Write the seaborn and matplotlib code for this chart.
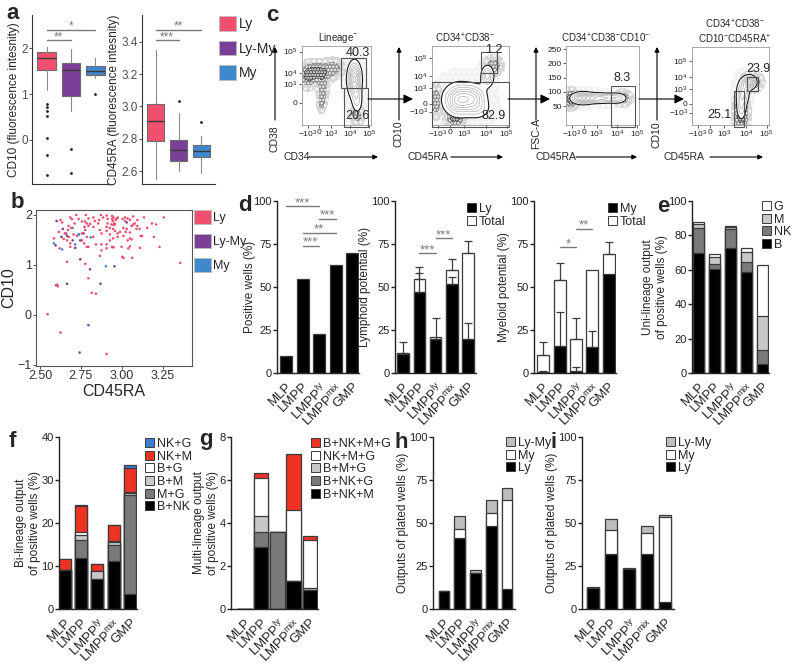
import numpy as np
import pandas as pd
import matplotlib
matplotlib.use("Agg")
import matplotlib.pyplot as plt
import seaborn as sns
from matplotlib.patches import Patch, Rectangle

sns.set_theme(style="ticks", rc={
    "axes.linewidth": 1.0, "xtick.major.width": 1.0, "ytick.major.width": 1.0,
    "xtick.major.size": 3, "ytick.major.size": 3,
    "xtick.labelsize": 8, "ytick.labelsize": 8, "axes.labelsize": 8.5,
    "axes.edgecolor": "#222222", "xtick.color": "#222222", "ytick.color": "#222222",
})
plt.rcParams['font.family'] = ['Liberation Sans', 'DejaVu Sans']
plt.rcParams['mathtext.fontset'] = 'custom'
plt.rcParams['mathtext.rm'] = 'Liberation Sans'
plt.rcParams['mathtext.it'] = 'Liberation Sans:italic'
plt.rcParams['mathtext.bf'] = 'Liberation Sans:bold'
plt.rcParams['hatch.color'] = '#2a2a2a'
plt.rcParams['hatch.linewidth'] = 1.1

# ---------------- data ----------------
groups = ['Ly', 'Ly-My', 'My']
group_colors = ['#f0506e', '#7b3f98', '#3f88cc']

# panel a : box summaries
cd10_q1 = [1.53, 0.96, 1.42]
cd10_med = [1.78, 1.53, 1.51]
cd10_q3 = [1.91, 1.69, 1.62]
cd10_lo = [1.08, 0.63, 1.34]
cd10_hi = [2.04, 1.98, 1.78]
cd10_fliers = [[0.78, 0.71, 0.62, 0.51, 0.04, -0.34, -0.78], [-0.2, -0.73], [1.0]]

cd45_q1 = [2.785, 2.666, 2.69]
cd45_med = [2.912, 2.731, 2.723]
cd45_q3 = [3.018, 2.791, 2.762]
cd45_lo = [2.555, 2.604, 2.59]
cd45_hi = [3.349, 2.959, 2.815]
cd45_fliers = [[], [3.031], [2.906]]

# panel b : single cells (CD45RA, CD10)
ly_cd45ra = [2.722, 2.780, 2.872, 2.907, 2.941, 2.685, 2.695, 2.736, 2.796, 2.826, 2.886, 2.913, 2.941,
             2.756, 2.776, 2.836, 2.862, 2.625, 2.635, 2.711, 2.786, 2.806, 2.856, 2.913, 2.937, 2.675,
             2.691, 2.772, 2.796, 2.826, 2.907, 2.927, 2.947, 2.671, 2.776, 2.866, 2.907, 2.615, 2.651,
             2.705, 2.756, 2.876, 2.927, 2.675, 2.726, 2.786, 2.826, 2.585, 2.645, 2.665, 2.756, 2.947,
             2.685, 2.770, 2.842, 2.876, 2.907, 2.685, 2.786, 2.796, 2.619, 2.907, 2.927, 2.665, 2.776,
             2.796, 2.816, 2.842, 2.603, 2.609, 2.546, 2.625, 2.907, 2.876, 2.941, 2.866, 2.950,
             2.949, 2.969, 2.945, 2.955, 2.963, 2.975, 3.005, 3.020, 3.036, 3.070, 3.096, 3.136, 3.257,
             3.185, 3.210, 2.949, 2.959, 3.010, 3.030, 3.060, 3.070, 3.096, 3.090, 3.110, 3.156, 2.959,
             2.975, 2.989, 3.024, 3.050, 2.975, 3.010, 3.036, 3.050, 3.060, 3.116, 3.124, 3.197, 2.999,
             3.040, 3.050, 3.110, 3.231, 3.010, 3.003, 3.064, 3.358, 3.020, 3.080, 3.050]
ly_cd10 = [2.00, 2.00, 2.00, 1.99, 1.98, 1.95, 1.92, 1.92, 1.93, 1.95, 1.95, 1.92, 1.92,
           1.87, 1.87, 1.88, 1.90, 1.90, 1.85, 1.83, 1.83, 1.82, 1.83, 1.83, 1.81, 1.78,
           1.74, 1.76, 1.78, 1.76, 1.76, 1.74, 1.72, 1.70, 1.70, 1.70, 1.68, 1.66, 1.63,
           1.61, 1.63, 1.63, 1.61, 1.56, 1.58, 1.56, 1.56, 1.53, 1.52, 1.49, 1.49, 1.53,
           1.43, 1.43, 1.41, 1.41, 1.41, 1.36, 1.36, 1.36, 1.33, 1.33, 1.49, 1.06, 1.02,
           0.73, 0.44, 0.42, 0.60, 0.57, 0.01, -0.36, -0.79, 1.29, 1.36, 1.18, 1.35,
           1.95, 1.93, 1.88, 1.83, 1.90, 1.95, 1.92, 1.95, 1.93, 1.97, 1.90, 1.95, 1.95,
           1.83, 1.81, 1.80, 1.81, 1.74, 1.72, 1.78, 1.81, 1.78, 1.72, 1.72, 1.74, 1.68,
           1.63, 1.66, 1.66, 1.65, 1.56, 1.58, 1.49, 1.53, 1.51, 1.58, 1.58, 1.56, 1.36,
           1.33, 1.37, 1.34, 1.36, 1.14, 1.16, 1.14, 1.04, 1.88, 1.83, 1.90]
lymy_cd45ra = [2.601, 2.639, 2.659, 2.631, 2.665, 2.699, 2.746, 2.715, 2.595, 2.746, 2.806, 2.665,
               2.870, 2.599, 2.796, 2.742, 2.766, 2.955, 3.030]
lymy_cd10 = [1.88, 1.72, 1.63, 1.56, 1.58, 1.49, 1.49, 1.34, 1.39, 1.11, 0.91, 0.62,
             0.62, 0.59, -0.21, -0.76, 1.63, 0.97, 1.85]
my_cd45ra = [2.699, 2.736, 2.810, 2.715, 2.585, 2.635, 2.903, 2.738]
my_cd10 = [1.74, 1.61, 1.55, 1.41, 1.43, 1.31, 0.97, 1.61]

# bar panels
pops = ['MLP', 'LMPP', 'LMPPly', 'LMPPmix', 'GMP']
pop_labels = ['MLP', 'LMPP', r'LMPP$^{\rm ly}$', r'LMPP$^{\rm mix}$', 'GMP']

positive_wells = [10, 54.5, 22.5, 63, 70]

lymph_ly = [11, 47, 20, 52, 20]
lymph_ly_err = [0, 11, 12, 4, 9]
lymph_total = [11.5, 54.5, 21, 60, 70]
lymph_total_err = [6.3, 7, 0, 6, 7]

myel_my = [0.8, 15.5, 1.2, 15, 57.5]
myel_my_err = [0.5, 20, 2, 9.5, 0]
myel_total = [10.5, 54, 19.5, 60, 69]
myel_total_err = [7.7, 10, 12.5, 0, 7]

uni_labels = ['B', 'NK', 'M', 'G']
uni_B = [69.7, 60.5, 72.5, 59, 5.4]
uni_NK = [14.8, 3, 11, 5.3, 8]
uni_M = [1.9, 3.7, 1.1, 6.3, 19.8]
uni_G = [1.6, 1.8, 1.0, 1.9, 29.8]

bi_labels = ['B+NK', 'M+G', 'B+M', 'B+G', 'NK+M', 'NK+G']
bi_BNK = [9, 11.9, 7, 11.1, 3.5]
bi_MG = [0, 4.2, 0, 3.9, 23]
bi_BM = [0, 1.2, 1.8, 0.5, 0.5]
bi_BG = [0, 0.6, 0, 0.3, 0.3]
bi_NKM = [2.6, 6.1, 1.7, 3.8, 5.4]
bi_NKG = [0, 0.3, 0, 0, 0.7]

multi_labels = ['B+NK+M', 'B+NK+G', 'B+M+G', 'NK+M+G', 'B+NK+M+G']
multi_BNKM = [0, 2.87, 0, 1.29, 0.88]
multi_BNKG = [0, 0.71, 3.6, 0, 0]
multi_BMG = [0, 0.73, 0, 0, 0.1]
multi_NKMG = [0, 1.78, 0, 3.31, 2.22]
multi_all = [0, 0.24, 0, 2.6, 0.2]

out_labels = ['Ly', 'My', 'Ly-My']
h_ly = [10.4, 41, 21, 48.3, 11.6]
h_my = [0, 5.3, 0, 7.5, 51.7]
h_lymy = [0, 7.9, 1.5, 7.5, 7.3]
i_ly = [12.3, 32, 23, 32, 4.2]
i_my = [0, 14, 0, 12, 49.3]
i_lymy = [0.7, 6.5, 1, 4, 1]

# panel c : flow gating (relative axis units)
flow_titles = [r'Lineage$^{-}$', r'CD34$^{+}$CD38$^{-}$', r'CD34$^{+}$CD38$^{-}$CD10$^{-}$',
               'CD34$^{+}$CD38$^{-}$\nCD10$^{-}$CD45RA$^{+}$']
flow_xlabels = ['CD34', 'CD45RA', 'CD45RA', 'CD45RA']
flow_ylabels = ['CD38', 'CD10', 'FSC-A', 'CD10']
log_ticklabels = [r'$-10^3$', '0', r'$10^3$', r'$10^4$', r'$10^5$']
fsc_ticklabels = ['50', '100', '150', '200', '250']
# event clouds: (centre x, centre y, spread x, spread y, weight)
lin_dots = [(0.22, 0.66, 0.11, 0.07, 1.0), (0.08, 0.62, 0.06, 0.08, 0.6), (0.30, 0.45, 0.04, 0.10, 0.55),
            (0.28, 0.28, 0.03, 0.06, 0.4), (0.80, 0.12, 0.05, 0.07, 0.4), (0.45, 0.72, 0.08, 0.06, 0.5)]
lin_contours = [(0.76, 0.58, 0.06, 0.13, 1.6), (0.80, 0.30, 0.05, 0.10, 0.5)]
cd34_dots = [(0.30, 0.10, 0.06, 0.06, 1.0), (0.05, 0.30, 0.04, 0.10, 0.6), (0.80, 0.75, 0.06, 0.06, 0.5)]
cd34_contours = [(0.35, 0.32, 0.12, 0.12, 1.0), (0.55, 0.35, 0.10, 0.10, 0.6),
                 (0.72, 0.62, 0.05, 0.08, 0.7), (0.60, 0.20, 0.10, 0.08, 0.3)]
cd10_dots = [(0.07, 0.33, 0.05, 0.06, 1.0), (0.78, 0.34, 0.06, 0.05, 0.5)]
cd10_contours = [(0.22, 0.34, 0.09, 0.045, 1.0), (0.45, 0.34, 0.15, 0.04, 0.8), (0.70, 0.34, 0.08, 0.04, 0.5)]
cd45_dots = [(0.64, 0.15, 0.05, 0.12, 1.0), (0.78, 0.55, 0.07, 0.06, 0.6)]
cd45_contours = [(0.75, 0.55, 0.05, 0.05, 1.0), (0.66, 0.42, 0.05, 0.10, 0.6), (0.64, 0.22, 0.04, 0.10, 0.4)]
lin_gates = [(0.56, 0.47, 0.37, 0.38), (0.61, -0.02, 0.35, 0.49)]
cd34_gates = [(0.0, -0.02, 1.0, 0.57), (0.63, 0.66, 0.22, 0.26)]
cd10_gates = [(0.62, -0.02, 0.33, 0.51)]
cd45_gates = [(0.72, 0.43, 0.14, 0.19), (0.55, -0.02, 0.13, 0.45)]
lin_freqs = ['40.3', '20.6']
cd34_freqs = ['82.9', '1.2']
cd10_freqs = ['8.3']
cd45_freqs = ['23.9', '25.1']

# ---------------- figure ----------------
W, H = 800, 669
fig = plt.figure(figsize=(W / 100, H / 100), dpi=100)


def px_axes(x0, y0, x1, y1):
    return fig.add_axes([x0 / W, 1 - y1 / H, (x1 - x0) / W, (y1 - y0) / H])


def sig(ax, x0, x1, y, stars, fs=9.5):
    ax.plot([x0, x1], [y, y], color='#7a7a7a', lw=1, clip_on=False)
    ax.text((x0 + x1) / 2, y, stars, ha='center', va='baseline', color='#7a7a7a', fontsize=fs)


# ---- a ----
def box_panel(ax, q1, med, q3, lo, hi, fliers, ylim, yticks, ylabel):
    stats = [dict(med=med[k], q1=q1[k], q3=q3[k], whislo=lo[k], whishi=hi[k], fliers=fliers[k])
             for k in range(3)]
    bp = ax.bxp(stats, positions=range(3), widths=0.75, patch_artist=True,
                boxprops=dict(edgecolor='#6b6b6b', linewidth=0.8),
                medianprops=dict(color='#3a3a3a', linewidth=1.0),
                whiskerprops=dict(color='#8a8a8a', linewidth=0.8),
                capprops=dict(linewidth=0),
                flierprops=dict(marker='o', markersize=2, markerfacecolor='#222222',
                                markeredgecolor='none'))
    for patch, c in zip(bp['boxes'], group_colors):
        patch.set_facecolor(c)
    ax.set_xlim(-0.6, 2.6)
    ax.set_ylim(*ylim)
    ax.set_yticks(yticks)
    ax.set_xticks([])
    ax.tick_params(axis='y', labelsize=8.5, labelcolor='#4d4d4d', color='#333333', length=2, width=0.6,
                   pad=1)
    ax.set_ylabel(ylabel, fontsize=8.5, labelpad=1)
    sns.despine(ax=ax)
    for s in ['left', 'bottom']:
        ax.spines[s].set_color('#333333')
        ax.spines[s].set_linewidth(0.8)


a1 = px_axes(32, 15, 110, 184)
box_panel(a1, cd10_q1, cd10_med, cd10_q3, cd10_lo, cd10_hi, cd10_fliers, (-0.97, 2.73), [0, 1, 2],
          'CD10 (fluorescence intesnity)')
sig(a1, 0, 2, 2.41, '*', fs=8.5)
sig(a1, 0, 1, 2.18, '**', fs=8.5)
a2 = px_axes(142, 15, 215, 184)
box_panel(a2, cd45_q1, cd45_med, cd45_q3, cd45_lo, cd45_hi, cd45_fliers, (2.522, 3.564),
          [2.6, 2.8, 3.0, 3.2, 3.4], 'CD45RA (fluorescence intesnity)')
a2.set_yticklabels(['2.6', '2.8', '3.0', '3.2', '3.4'])
sig(a2, 0, 2, 3.472, '**', fs=8.5)
sig(a2, 0, 1, 3.41, '***', fs=8.5)

group_handles = [Patch(facecolor=c, edgecolor='#bbbbbb', linewidth=0.6) for c in group_colors]
fig.legend(group_handles, groups, loc='upper left', bbox_to_anchor=(219 / W, 1 - 16 / H),
           frameon=False, fontsize=10, handlelength=1.25, handleheight=1.25, handletextpad=0.2,
           labelspacing=0.7, borderpad=0, borderaxespad=0)

# ---- b ----
b = px_axes(36, 210, 192, 366)
cells = pd.concat([
    pd.DataFrame({'CD45RA': lymy_cd45ra, 'CD10': lymy_cd10, 'group': 'Ly-My'}),
    pd.DataFrame({'CD45RA': my_cd45ra, 'CD10': my_cd10, 'group': 'My'}),
    pd.DataFrame({'CD45RA': ly_cd45ra, 'CD10': ly_cd10, 'group': 'Ly'}),
])
sns.scatterplot(data=cells, x='CD45RA', y='CD10', hue='group', hue_order=groups,
                palette=group_colors, s=3.5, linewidth=0, legend=False, ax=b)
b.set_xlim(2.475, 3.43)
b.set_ylim(-1.03, 2.10)
b.set_xticks([2.5, 2.75, 3.0, 3.25])
b.set_xticklabels(['2.50', '2.75', '3.00', '3.25'])
b.set_yticks([-1, 0, 1, 2])
b.tick_params(labelsize=9, labelcolor='#333333', color='#333333', length=2, width=0.6, pad=1)
b.set_xlabel('CD45RA', fontsize=11.5, labelpad=1)
b.set_ylabel('CD10', fontsize=11.5, labelpad=1)
for s in b.spines.values():
    s.set_color('#555555')
    s.set_linewidth(0.8)
fig.legend(group_handles, groups, loc='upper left', bbox_to_anchor=(194 / W, 1 - 210 / H),
           frameon=False, fontsize=9, handlelength=1.35, handleheight=1.35, handletextpad=0.15,
           labelspacing=0.78, borderpad=0, borderaxespad=0)


# ---- c ----
def density(clouds, X, Y):
    Z = np.zeros_like(X)
    for cx, cy, sx, sy, w in clouds:
        Z += w * np.exp(-0.5 * (((X - cx) / sx) ** 2 + ((Y - cy) / sy) ** 2))
    return Z / Z.max()


def flow_panel(ax, dots, contours, gates, freqs, freq_pos, yticks, yticklabels):
    grid = np.linspace(0, 1, 240)
    X, Y = np.meshgrid(grid, grid)
    Zd = density(dots, X, Y)
    Zc = density(contours, X, Y)
    ax.contourf(X, Y, Zc, levels=[0.004, 0.15], colors=['#f2f2f2'], hatches=['...'])
    ax.contourf(X, Y, Zd, levels=[0.03, 0.25, 0.6, 1.01], colors=['#d6d6d6', '#8f8f8f', '#4a4a4a'],
                hatches=['...', '.....', '......'])
    ax.contourf(X, Y, Zc, levels=[0.15, 1.01], colors=['white'])
    ax.contour(X, Y, Zc, levels=[0.15], colors='#1a1a1a', linewidths=0.8)
    ax.contour(X, Y, Zc, levels=np.linspace(0.3, 0.95, 6), colors='#a6a6a6', linewidths=0.45)
    for gx, gy, gw, gh in gates:
        ax.add_patch(Rectangle((gx, gy), gw, gh, fill=False, edgecolor='#555555', lw=0.8,
                               clip_on=False, zorder=5))
    for txt, (tx, ty, ha) in zip(freqs, freq_pos):
        ax.text(tx, ty, txt, ha=ha, va='center', fontsize=9, zorder=6)
    ax.set_xlim(0, 1)
    ax.set_ylim(0, 1)
    ax.set_xticks([0.08, 0.24, 0.42, 0.70, 0.97])
    ax.set_xticklabels(log_ticklabels)
    ax.set_yticks(yticks)
    ax.set_yticklabels(yticklabels)
    ax.tick_params(labelsize=6, length=2, width=0.5, pad=1)
    for s in ax.spines.values():
        s.set_color('#9a9a9a')
        s.set_linewidth(0.6)


p1 = px_axes(302, 46, 371, 125)
flow_panel(p1, lin_dots, lin_contours, lin_gates, lin_freqs,
           [(0.98, 0.91, 'right'), (0.98, 0.12, 'right')], [0.28, 0.52, 0.66, 0.93], log_ticklabels[1:])
p2 = px_axes(432, 46, 509, 125)
flow_panel(p2, cd34_dots, cd34_contours, cd34_gates, cd34_freqs,
           [(0.96, 0.11, 'right'), (0.92, 0.95, 'right')], [0.17, 0.27, 0.47, 0.62, 0.85], log_ticklabels)
p3 = px_axes(566, 46, 639, 125)
flow_panel(p3, cd10_dots, cd10_contours, cd10_gates, cd10_freqs, [(0.77, 0.6, 'center')],
           [0.24, 0.42, 0.60, 0.78, 0.96], fsc_ticklabels)
p4 = px_axes(692, 47, 769, 125)
flow_panel(p4, cd45_dots, cd45_contours, cd45_gates, cd45_freqs,
           [(0.86, 0.72, 'center'), (0.36, 0.13, 'center')], [0.16, 0.27, 0.46, 0.62, 0.82], log_ticklabels)


# ---- d, e, f, g, h, i ----
def bar_axes(ax, xlim, ylim, yticks, ylabel):
    ax.set_xlim(*xlim)
    ax.set_ylim(*ylim)
    ax.set_yticks(yticks)
    ax.set_xticks(range(len(pops)))
    ax.set_xticklabels(pop_labels, rotation=45, ha='right', rotation_mode='anchor', fontsize=9.5)
    ax.set_xlabel('')
    ax.set_ylabel(ylabel, fontsize=8.5, labelpad=0.5)
    ax.tick_params(axis='y', labelsize=8, length=3, pad=0.8)
    ax.tick_params(axis='x', length=0, pad=5)
    sns.despine(ax=ax)


def bars(ax, vals, color, width=0.72):
    df = pd.DataFrame({'pop': pops, 'val': vals})
    sns.barplot(data=df, x='pop', y='val', order=pops, color=color, saturation=1, width=width,
                edgecolor='#3a3a3a', linewidth=0.9, errorbar=None, ax=ax)


def stacked(ax, layers, colors, width=0.72):
    cum = np.cumsum(np.array(layers, dtype=float), axis=0)
    for k in range(len(layers) - 1, -1, -1):
        bars(ax, cum[k], colors[k], width)


def up_err(ax, vals, errs):
    x = np.arange(len(pops))
    v = np.array(vals, dtype=float)
    e = np.array(errs, dtype=float)
    m = e > 0
    ax.errorbar(x[m], v[m], yerr=[np.zeros(m.sum()), e[m]], fmt='none', ecolor='#3a3a3a',
                elinewidth=0.9, capsize=3, capthick=0.9)


def bar_legend(ax, colors, labels, x, y):
    handles = [Patch(facecolor=c, edgecolor='#3a3a3a', linewidth=0.7) for c in colors]
    ax.legend(handles, labels, loc='upper left', bbox_to_anchor=(x / W, 1 - y / H),
              bbox_transform=fig.transFigure, frameon=False, fontsize=9, handlelength=0.75,
              handleheight=0.75, handletextpad=0.2, labelspacing=0.05, borderpad=0, borderaxespad=0)


d1 = px_axes(277, 201, 359, 373)
bars(d1, positive_wells, 'black')
bar_axes(d1, (-0.55, 4.42), (0, 100), [0, 25, 50, 75, 100], 'Positive wells (%)')
d1.yaxis.set_label_coords(-0.25, 0.5)
sig(d1, 0, 2, 97, '***')
sig(d1, 2, 3, 89.8, '***')
sig(d1, 1, 3, 81.6, '**')
sig(d1, 1, 2, 73.9, '***')

d2 = px_axes(395, 201, 476, 373)
bars(d2, lymph_total, 'white')
up_err(d2, lymph_total, lymph_total_err)
bars(d2, lymph_ly, 'black')
up_err(d2, lymph_ly, lymph_ly_err)
bar_axes(d2, (-0.51, 4.5), (0, 100), [0, 25, 50, 75, 100], 'Lymphoid potential (%)')
sig(d2, 1, 2, 69.7, '***')
sig(d2, 2, 3, 78.3, '***')
bar_legend(d2, ['black', 'white'], ['Ly', 'Total'], 467, 203)

d3 = px_axes(534, 201, 616, 373)
bars(d3, myel_total, 'white')
up_err(d3, myel_total, myel_total_err)
bars(d3, myel_my, 'black')
up_err(d3, myel_my, myel_my_err)
bar_axes(d3, (-0.57, 4.45), (0, 100), [0, 25, 50, 75, 100], 'Myeloid potential (%)')
sig(d3, 1, 2, 73, '*')
sig(d3, 2, 3, 84, '**')
bar_legend(d3, ['black', 'white'], ['My', 'Total'], 608, 203)

e = px_axes(692, 201, 769, 373)
stacked(e, [uni_B, uni_NK, uni_M, uni_G], ['black', '#7a7a7a', '#c8c8c8', 'white'], width=0.7)
bar_axes(e, (-0.42, 4.42), (0, 100), [0, 20, 40, 60, 80, 100],
         'Uni-lineage output\nof positive wells (%)')
bar_legend(e, ['white', '#c8c8c8', '#7a7a7a', 'black'], ['G', 'M', 'NK', 'B'], 762, 201)

f = px_axes(59, 437, 137, 609)
bi_colors = ['black', '#7a7a7a', '#c8c8c8', 'white', '#ee3224', '#3a7fd5']
stacked(f, [bi_BNK, bi_MG, bi_BM, bi_BG, bi_NKM, bi_NKG], bi_colors, width=0.75)
bar_axes(f, (-0.35, 4.43), (0, 40), [0, 10, 20, 30, 40], 'Bi-lineage output\nof positive wells (%)')
bar_legend(f, bi_colors[::-1], bi_labels[::-1], 145, 438)

g = px_axes(231, 437, 318, 609)
multi_colors = ['black', '#7a7a7a', '#c8c8c8', 'white', '#ee3224']
stacked(g, [multi_BNKM, multi_BNKG, multi_BMG, multi_NKMG, multi_all], multi_colors, width=0.9)
bar_axes(g, (-0.84, 4.5), (0, 8), [0, 2, 4, 6, 8], 'Multi-lineage output\nof positive wells (%)')
bar_legend(g, multi_colors[::-1], multi_labels[::-1], 311, 438)

out_colors = ['black', 'white', '#bdbdbd']
h = px_axes(433, 437, 515, 609)
stacked(h, [h_ly, h_my, h_lymy], out_colors, width=0.68)
bar_axes(h, (-0.69, 4.5), (0, 100), [0, 25, 50, 75, 100], 'Outputs of plated wells (%)')
bar_legend(h, out_colors[::-1], out_labels[::-1], 506, 437)

i_ax = px_axes(582, 437, 674, 609)
stacked(i_ax, [i_ly, i_my, i_lymy], out_colors, width=0.68)
bar_axes(i_ax, (-0.6, 4.5), (0, 100), [0, 25, 50, 75, 100], 'Outputs of plated wells (%)')
bar_legend(i_ax, out_colors[::-1], out_labels[::-1], 666, 437)

# ---- overlay: panel letters, flow titles and arrows ----
ov = fig.add_axes([0, 0, 1, 1])
ov.set_xlim(0, W)
ov.set_ylim(H, 0)
ov.axis('off')
for letter, (lx, ly) in zip('abcdefghi', [(6, 19), (11, 208), (266, 21), (238, 211), (657, 212),
                                          (9, 447), (199, 445), (394, 448), (551, 448)]):
    ov.text(lx, ly, letter, fontsize=16, fontweight='bold', ha='left', va='baseline')

for title, tx, ty in zip(flow_titles, [338, 465, 606, 735], [38, 38, 38, 32]):
    ov.text(tx, ty, title, fontsize=7, ha='center', va='center', linespacing=1.1)

arrow_kw = dict(arrowstyle='-|>', color='black', lw=0.8, mutation_scale=7, shrinkA=0, shrinkB=0)
for ax_x, lab, lab_y in zip([275, 399, 536, 657], flow_ylabels, [139, 134, 133, 135]):
    ov.annotate('', xy=(ax_x, 47), xytext=(ax_x, 120), arrowprops=arrow_kw)
    ov.text(ax_x, lab_y, lab, rotation=90, ha='center', va='center', fontsize=7.5)
for tx0, ax0, ax1, lab in zip([283, 408, 535, 663], [309, 451, 576, 710], [378, 503, 637, 763],
                              flow_xlabels):
    ov.text(tx0, 157, lab, ha='left', va='center', fontsize=7.5)
    ov.annotate('', xy=(ax1, 157), xytext=(ax0, 157), arrowprops=arrow_kw)
big_arrow = dict(arrowstyle='-|>', color='black', lw=0.8, mutation_scale=14, shrinkA=0, shrinkB=0)
for x0, x1 in [(368, 413), (508, 550), (639, 684)]:
    ov.annotate('', xy=(x1, 99), xytext=(x0, 99), arrowprops=big_arrow)

fig.savefig('out.png', dpi=100)
